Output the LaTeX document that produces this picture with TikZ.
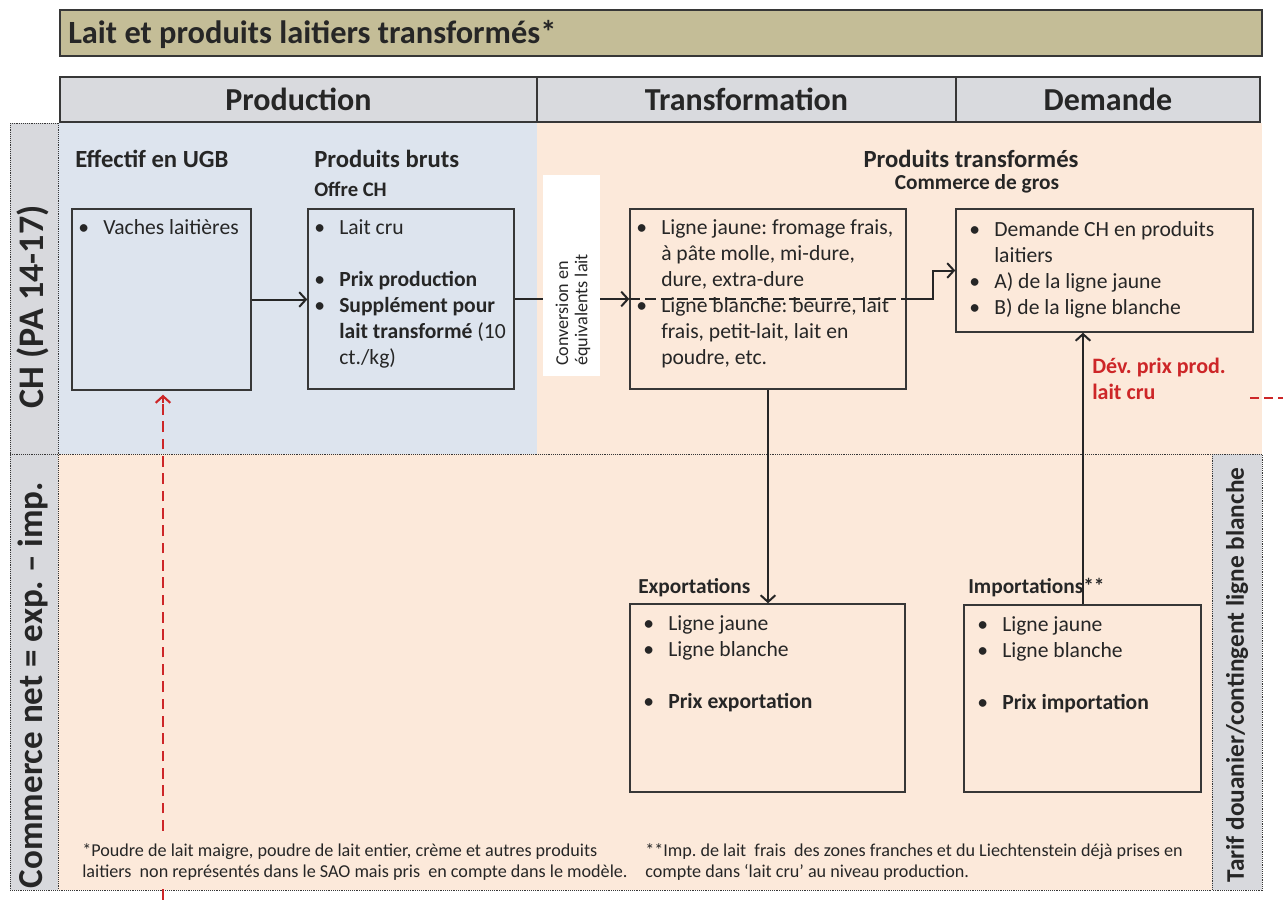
\documentclass[tikz,border=0pt]{standalone}
\usepackage{fontspec}
\setmainfont{Carlito}
\usetikzlibrary{arrows.meta,fit,calc}

\definecolor{titlefill}{RGB}{196,189,151}
\definecolor{headfill}{RGB}{217,218,222}
\definecolor{bluefill}{RGB}{221,228,238}
\definecolor{peachfill}{RGB}{252,233,218}
\definecolor{labelfill}{RGB}{216,217,221}
\definecolor{ink}{RGB}{38,38,38}
\definecolor{frame}{RGB}{55,55,55}
\definecolor{redline}{RGB}{205,38,40}

% bullet hanging to the left of the text start
\newcommand{\bl}{\llap{\makebox[18.75pt][l]{\textbullet}}}
\frenchspacing

\begin{document}
\begin{tikzpicture}[x=0.75pt,y=-0.75pt,
  every node/.style={text=ink},
  boxst/.style={draw=frame,line width=1.1pt,inner sep=0pt},
  headcell/.style={draw=frame,line width=1.1pt,fill=headfill,inner sep=0pt},
  headtxt/.style={inner sep=0pt,font=\fontsize{24}{28}\selectfont\bfseries},
  dotbord/.style={draw=frame,line width=0.7pt,dash pattern=on 0.7pt off 0.7pt},
  body/.style={anchor=north west,inner sep=0pt,align=left,
    font=\fontsize{16.2}{19.5}\selectfont},
  heading/.style={anchor=base west,inner sep=0pt,font=\fontsize{18.5}{22}\selectfont\bfseries},
  subhead/.style={anchor=base west,inner sep=0pt,font=\fontsize{16}{19}\selectfont\bfseries},
  sidelabel/.style={rotate=90,inner sep=0pt,font=\fontsize{27}{30}\selectfont\bfseries},
  arr/.style={draw=ink,line width=1.5pt,-{Straight Barb[length=5pt,width=11pt,line width=1.5pt]}},
  plain/.style={draw=ink,line width=1.5pt},
  reddash/.style={draw=redline,line width=2pt,dash pattern=on 8pt off 5pt},
  redtip/.style={draw=redline,line width=1.6pt,solid,-{Straight Barb[length=5pt,width=11pt,line width=1.6pt]}},
  note/.style={anchor=north west,inner xsep=1.5pt,inner ysep=4.5pt,align=left,fill=peachfill,
    font=\fontsize{13.6}{15.75}\selectfont}
]
\useasboundingbox (0,0) rectangle (1283,900);

% ---- background areas ----
\fill[bluefill]  (58,123) rectangle (537,454);
\fill[peachfill] (537,123) rectangle (1262,454);
\fill[peachfill] (58,454) rectangle (1212,890);
\fill[labelfill] (10,123) rectangle (58,890);
\fill[labelfill] (1212,454) rectangle (1262,890);

% dotted frame lines
\draw[dotbord] (10,123) -- (58,123);
\draw[dotbord] (10,123) -- (10,890) -- (1212,890);
\draw[dotbord] (58,123) -- (58,890);
\draw[dotbord] (10,454) -- (1212,454);
\draw[dotbord] (1212,454) rectangle (1262,890);

% ---- title and column headers ----
\node[draw=frame,line width=1.1pt,fill=titlefill,inner sep=0pt,fit={(60,10) (1262,56)}] (title) {};
\node[anchor=base west,inner sep=0pt,font=\fontsize{24.3}{28}\selectfont\bfseries] (titletxt) at (68,43)
  {Lait et produits laitiers transformés*};

\node[headcell,fit={(60,77) (537,122)}] (hprod) {};
\node[headcell,fit={(537,77) (956,122)}] (htrans) {};
\node[headcell,fit={(956,77) (1260,122)}] (hdem) {};
\node[headtxt] (hprodt) at (hprod.center) {Production};
\node[headtxt] (htranst) at (htrans.center) {Transformation};
\node[headtxt] (hdemt) at (hdem.center) {Demande};

% ---- side labels ----
\node[sidelabel] (lblch) at (33,307) {CH (PA 14-17)};
\node[sidelabel,font=\fontsize{26.3}{30}\selectfont\bfseries] (lblnet) at (33,685) {Commerce net = exp. – imp.};
\node[sidelabel,font=\fontsize{19}{22}\selectfont\bfseries] (lbltarif) at (1237,675)
  {Tarif douanier/contingent ligne blanche};

% ---- headings ----
\node[heading] (hEff) at (75,167) {Effectif en UGB};
\node[heading] (hBruts) at (314,167) {Produits bruts};
\node[subhead,font=\fontsize{15.5}{18}\selectfont\bfseries] (hOffre) at (314,196) {Offre CH};
\node[heading,anchor=base] (hTransf) at (971,167) {Produits transformés};
\node[subhead,anchor=base,font=\fontsize{16}{19}\selectfont\bfseries] (hGros) at (977,189) {Commerce de gros};
\node[subhead] (hExp) at (638,593) {Exportations};
\node[subhead] (hImp) at (968,593) {Importations**};

% ---- boxes ----
\node[boxst,fit={(72,209) (251,390)}] (vach) {};
\node[boxst,fit={(308,209) (514,389)}] (prod) {};
\node[fill=white,inner sep=0pt,fit={(543,175) (600,376)}] (conv) {};
\node[boxst,fit={(630,209) (906,389)}] (lig) {};
\node[boxst,fit={(956,209) (1253,332)}] (dem) {};
\node[boxst,fit={(630,604) (905,792)}] (exp) {};
\node[boxst,fit={(964,605) (1201,792)}] (imp) {};

% ---- box contents ----
\node[body] (tvach) at (103,216) {\strut\bl Vaches laitières};
\node[body] (tprod) at (339,216) {\strut\bl Lait cru\\[19.5pt]
  \bl\textbf{Prix production}\\
  \bl\textbf{Supplément pour}\\
  \textbf{lait transformé} (10\\
  ct./kg)};
\node[rotate=90,anchor=west,align=left,inner sep=0pt,font=\fontsize{13.6}{14.5}\selectfont] (tconv)
  at (573,366) {Conversion en\\équivalents lait};
\node[body] (tlig) at (661,216) {\strut\bl Ligne jaune: fromage frais,\\
  à pâte molle, mi-dure,\\
  dure, extra-dure\\
  \bl Ligne blanche: beurre, lait\\
  frais, petit-lait, lait en\\
  poudre, etc.};
\node[body] (tdem) at (994,218) {\strut\bl Demande CH en produits\\
  laitiers\\
  \bl A) de la ligne jaune\\
  \bl B) de la ligne blanche};
\node[body] (texp) at (668,612) {\strut\bl Ligne jaune\\
  \bl Ligne blanche\\[19.5pt]
  \bl\textbf{Prix exportation}};
\node[body] (timp) at (1002,613) {\strut\bl Ligne jaune\\
  \bl Ligne blanche\\[19.5pt]
  \bl\textbf{Prix importation}};

\node[body,text=redline,font=\fontsize{16.5}{19.5}\selectfont\bfseries] (tdev) at (1092,355)
  {\strut Dév. prix prod.\\lait cru};

% ---- connectors ----
\draw[arr] (vach.east) -- (vach.east -| prod.west);
\draw[plain] (prod.east) -- (prod.east -| conv.west);
\draw[arr] (conv.east |- lig.west) -- (lig.west);
\draw[plain,dash pattern=on 8pt off 4pt] (lig.west) -- (lig.east);
\draw[arr] (lig.east) -- ++(26,0) |- (dem.west);
\draw[arr] (lig.south) -- (lig.south |- exp.north);
\draw[arr] (imp.north -| 1083,0) -- (dem.south -| 1083,0);

% red dashed links
\coordinate (redbot) at (163,900);
\coordinate (redtop) at ($(redbot |- vach.south)+(0,4)$);
\draw[reddash] (redbot) -- ($(redtop)+(0,6)$);
\draw[redtip] ($(redtop)+(0,8)$) -- (redtop);
\coordinate (redr1) at (1250,398);
\coordinate (redr2) at (1283,398);
\draw[reddash,dash pattern=on 7pt off 3.5pt] (redr1) -- (redr2);

% ---- footnotes ----
\node[note] (fn1) at (80,836) {\strut*Poudre de lait maigre, poudre de lait entier, crème et autres produits\\
  laitiers\ \ non représentés dans le SAO mais pris\ \ en compte dans le modèle.};
\node[note] (fn2) at (643,836) {\strut**Imp. de lait\ \ frais\ \ des zones franches et du Liechtenstein déjà prises en\\
  compte dans ‘lait cru’ au niveau production.};
\end{tikzpicture}
\end{document}
